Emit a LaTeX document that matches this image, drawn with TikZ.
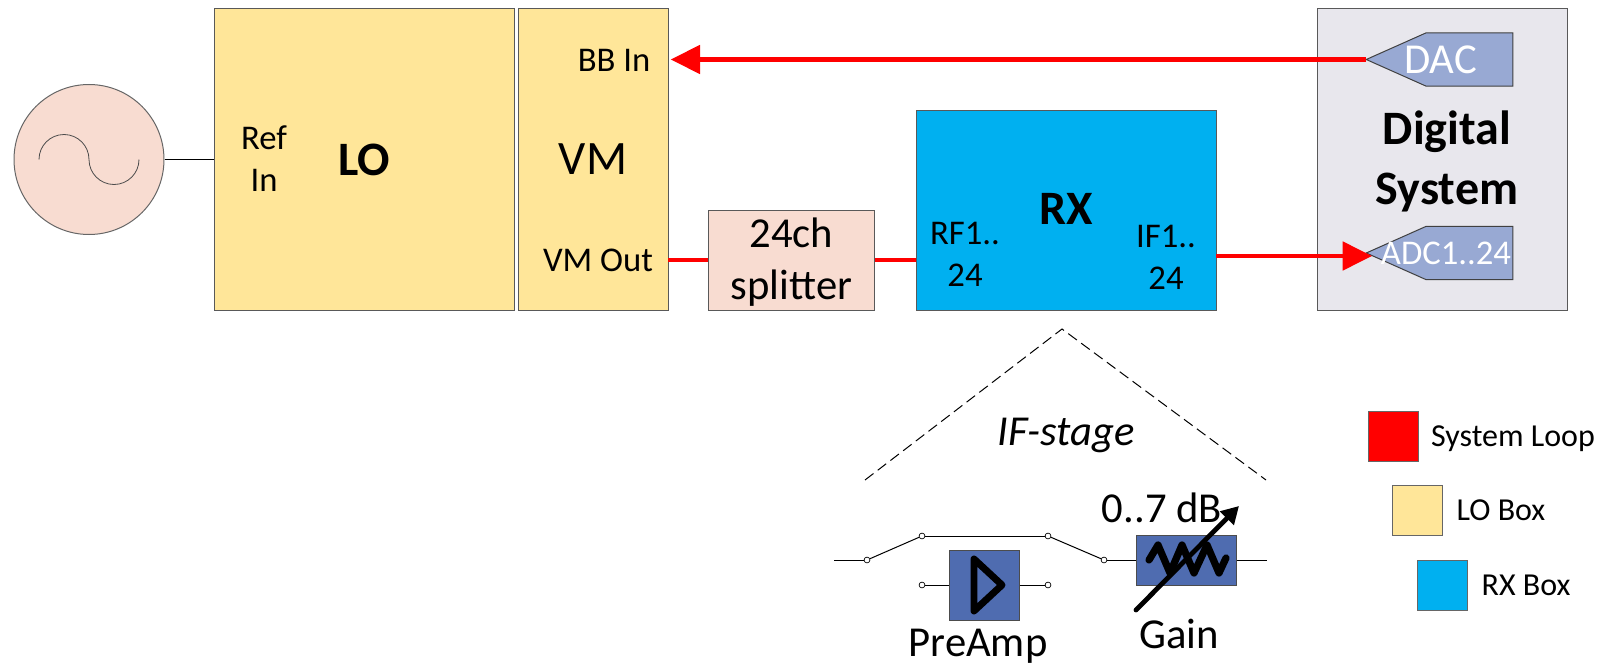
\documentclass[tikz,border=0pt]{standalone}
\usepackage{fontspec}
\setmainfont{Carlito}
\usepackage{tikz}
\usetikzlibrary{positioning,arrows.meta,shapes.symbols}
\definecolor{lobox}{HTML}{FFE699}
\definecolor{rxbox}{HTML}{00B0F0}
\definecolor{peach}{HTML}{F8DCD1}
\definecolor{digibox}{HTML}{E8E7ED}
\definecolor{tagblue}{HTML}{98A9D3}
\definecolor{partblue}{HTML}{4F6CB0}

\begin{document}
\begin{tikzpicture}[
    x=0.75pt, y=-0.75pt,
    box/.style={draw=black!65, inner sep=0pt, outer sep=0pt, line width=0.75pt, align=center},
    lobx/.style={box, fill=lobox, minimum height=225.75pt},
    part/.style={draw=black!70, fill=partblue, inner sep=0pt, outer sep=0pt, line width=0.75pt},
    tag/.style={signal, signal to=west, signal pointer angle=48, draw=black!75, fill=tagblue, inner sep=0pt, outer sep=0pt, minimum width=110pt, minimum height=40pt, line width=0.75pt},
    term/.style={circle, draw, fill=white, inner sep=0pt, minimum size=4.4pt, line width=0.5pt},
    swatch/.style={draw=black!60, inner sep=0pt, minimum size=37.5pt, line width=0.75pt},
    txtbig/.style={font=\fontsize{36}{45}\selectfont},
    txtmid/.style={font=\fontsize{32}{39}\selectfont, align=center},
    txtsm/.style={font=\fontsize{26}{31.5}\selectfont, align=center},
    txtleg/.style={font=\fontsize{24}{28}\selectfont},
    line/.style={-, line width=0.75pt},
    sigline/.style={line width=3.7pt, red},
    sigarrow/.style={sigline, -{Triangle[length=22pt, width=21pt]}}
]
\useasboundingbox (0,0) rectangle (1612,667);

\node[circle, draw=black!60, fill=peach, inner sep=0pt, minimum size=112.5pt, line width=0.75pt] (osc) at (89,159.5) {};
\draw[black!70, line width=0.6pt] (39,159.5) arc[start angle=180, end angle=0, radius=18.75pt] arc[start angle=180, end angle=360, radius=18.75pt];

\node[lobx, minimum width=225pt, txtbig, font=\bfseries\fontsize{36}{45}\selectfont] (lo) at (364,159.5) {LO};
\node[lobx, minimum width=112.5pt, txtbig] (vm) at (593,159.5) {VM};
\node[box, fill=peach, minimum width=125pt, minimum height=75pt] (split) at (791.5,260) {};
\node[box, fill=rxbox, minimum width=225pt, minimum height=150pt] (rx) at (1066,210) {};
\node[box, fill=digibox, minimum width=187.5pt, minimum height=225.75pt] (digi) at (1442,159.5) {};

\node[txtmid] (splittxt) at (791.5,262) {24ch\\splitter};
\node[txtsm] (refin) at (264,159) {Ref\\In};
\node[txtsm] (bbin) at (614,60) {BB In};
\node[txtsm] (vmout) at (598,260) {VM Out};
\node[txtbig, font=\bfseries\fontsize{36}{45}\selectfont] (rxname) at (1066,209) {RX};
\node[txtsm] (rfin) at (965,254) {RF1..\\24};
\node[txtsm] (ifout) at (1166,257) {IF1..\\24};
\node[txtbig, font=\bfseries\fontsize{36}{45}\selectfont, align=center] (diginame) at (1447,161) {Digital\\System};

\node[tag] (dac) at (1469.5,59.5) {};
\node[tag] (adc) at (1469.5,253) {};
\node[font=\fontsize{32}{36}\selectfont, text=white] (dactxt) at (1440.5,59.5) {DAC};
\node[font=\fontsize{26}{28}\selectfont, text=white] (adctxt) at (1446,253) {ADC1..24};
\coordinate (adcin) at (1372,256);

\draw[line] (osc.east) -- (lo.west |- osc.east);
\draw[sigarrow, shorten >=2pt] (dac.west) -- (vm.east |- dac.west);
\draw[sigline] (vm.east |- split.west) -- (split.west);
\draw[sigline] (split.east) -- (rx.west |- split.east);
\draw[sigarrow] (rx.east |- adcin) -- (adcin);

\coordinate (apex) at (1062,329);
\coordinate (fanl) at (865,480);
\coordinate (fanr) at (1266,480);
\draw[dashed, line width=0.75pt, dash pattern=on 8pt off 4pt] (fanl) -- (apex) -- (fanr);
\node[font=\itshape\fontsize{32}{36}\selectfont] (ifstage) at (1066,435) {IF-stage};

\node[part, minimum width=53pt, minimum height=53pt] (pre) at (984.5,585.5) {};
\node[part, minimum width=75.5pt, minimum height=38pt] (gain) at (1186.5,560.5) {};
\node[term] (sw1) at (867,560) {};
\node[term] (sw2) at (922,536) {};
\node[term] (sw3) at (1048,536) {};
\node[term] (sw4) at (1104,560) {};
\node[term] (prein) at (922,585) {};
\node[term] (preout) at (1048,585) {};
\coordinate (inend) at (834,560);
\coordinate (outend) at (1267,560);
\draw[line] (inend) -- (sw1);
\draw[line] (sw1) -- (sw2);
\draw[line] (sw2) -- (sw3);
\draw[line] (sw3) -- (sw4);
\draw[line] (sw4) -- (gain.west |- sw4);
\draw[line] (gain.east |- outend) -- (outend);
\draw[line] (prein) -- (pre.west |- prein);
\draw[line] (pre.east |- preout) -- (preout);

\draw[line width=5.2pt, line join=round, line cap=round] (974,559) -- (1002,585) -- (974,611) -- cycle;
\draw[line width=5.4pt, line join=round, line cap=round] (1149,560) -- (1158,545) -- (1170,573) -- (1182,545) -- (1194,573) -- (1207,545) -- (1219,573) -- (1226,558);
\draw[line width=3.6pt, line cap=round, -{Triangle[length=13pt, width=14pt]}] (1136,610) -- (1239,506);

\node[font=\fontsize{32}{36}\selectfont] (range) at (1162,508) {0..7 dB};
\node[font=\fontsize{32}{36}\selectfont] (gainlbl) at (1179,634) {Gain};
\node[font=\fontsize{32}{36}\selectfont] (prelbl) at (978,646) {PreAmp};

\node[swatch, fill=red] (legsys) at (1393,436) {};
\node[swatch, fill=lobox] (leglo) at (1417,510) {};
\node[swatch, fill=rxbox] (legrx) at (1442,585) {};
\node[txtleg] (txtsys) at (1513,439) {System Loop};
\node[txtleg] (txtlo) at (1501,510) {LO Box};
\node[txtleg] (txtrx) at (1526,585) {RX Box};
\end{tikzpicture}
\end{document}
